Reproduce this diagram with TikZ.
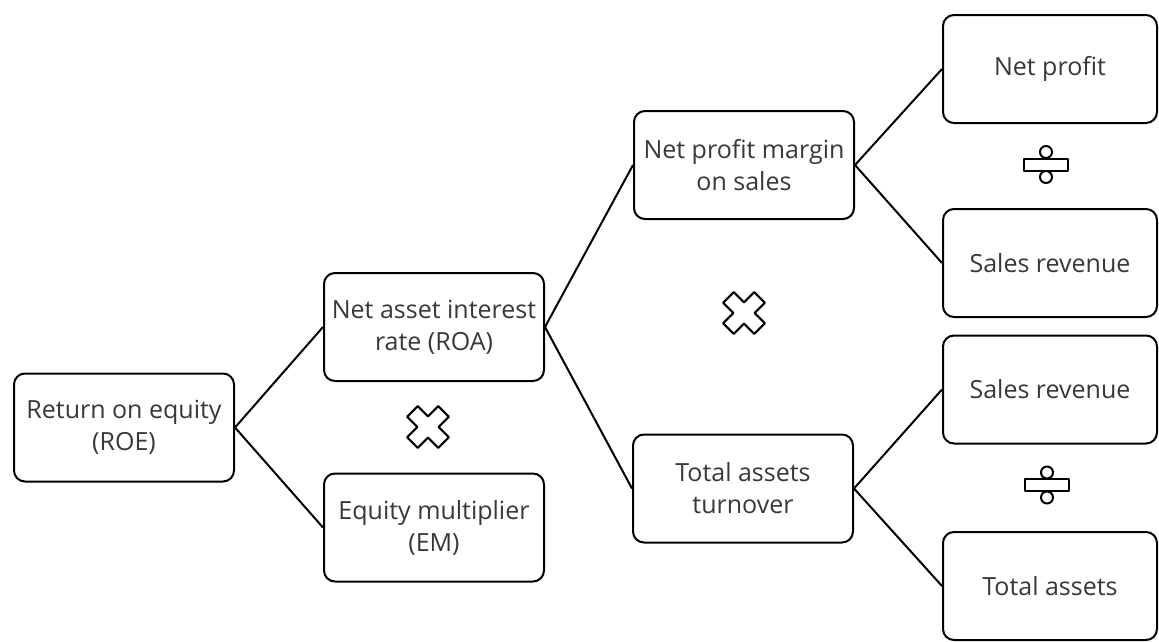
\documentclass[tikz,border=0pt]{standalone}
\usepackage{fontspec}
\setmainfont{Open Sans}
\begin{document}
\begin{tikzpicture}[x=1pt,y=-1pt,
  box/.style={draw=black, line width=2pt, rounded corners=11pt, fill=white,
    minimum width=220pt, minimum height=108pt, align=center, inner sep=0pt,
    text=black!78, font=\fontsize{25}{32}\selectfont},
  rbox/.style={box, minimum width=214pt},
  link/.style={line width=2pt, black},
  symline/.style={line width=2pt, black, line join=round},
  pics/mulsym/.style={code={
    \draw[symline, rotate=45] (7.5,7.5) -- (22,7.5) -- (22,-7.5) -- (7.5,-7.5) -- (7.5,-22)
      -- (-7.5,-22) -- (-7.5,-7.5) -- (-22,-7.5) -- (-22,7.5) -- (-7.5,7.5) -- (-7.5,22)
      -- (7.5,22) -- cycle;}},
  pics/divsym/.style={code={
    \draw[symline] (-22,-6) rectangle (22,6);
    \draw[symline] (0,-12.5) circle[radius=6];
    \draw[symline] (0,12.5) circle[radius=6];}}
]
\useasboundingbox (0,0) rectangle (1159,641);

\node[box] (roe) at (124,427.5) {Return on equity\\(ROE)};
\node[box] (roa) at (434,327) {Net asset interest\\rate (ROA)};
\node[box] (em)  at (434,527.5) {Equity multiplier\\(EM)};
\node[box] (npm) at (744,165) {Net profit margin\\on sales};
\node[box] (tat) at (743,488.5) {Total assets\\turnover};
\node[rbox] (np)  at (1050,69) {Net profit};
\node[rbox] (sr1) at (1050,263) {Sales revenue};
\node[rbox] (sr2) at (1050,389.5) {Sales revenue};
\node[rbox] (ta)  at (1050,586) {Total assets};

\draw[link] (roe.east) -- (roa.west);
\draw[link] (roe.east) -- (em.west);
\draw[link] (roa.east) -- (npm.west);
\draw[link] (roa.east) -- (tat.west);
\draw[link] (npm.east) -- (np.west);
\draw[link] (npm.east) -- (sr1.west);
\draw[link] (tat.east) -- (sr2.west);
\draw[link] (tat.east) -- (ta.west);

\pic at (428,427) {mulsym};
\pic at (744,313) {mulsym};
\pic at (1046,164.5) {divsym};
\pic at (1047,485) {divsym};
\end{tikzpicture}
\end{document}
